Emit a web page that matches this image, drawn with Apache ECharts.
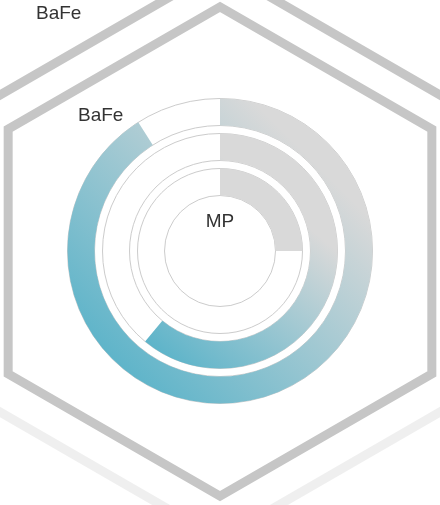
<!DOCTYPE html>
<html>
<head>
<meta charset="utf-8">
<script src="https://cdn.jsdelivr.net/npm/echarts@6/dist/echarts.min.js"></script>
<style>
html,body{margin:0;padding:0;background:#fff;}
#main{width:440px;height:505px;}
</style>
</head>
<body>
<div id="main"></div>
<script>
// Data
const categories = ['inner', 'middle', 'outer'];
const values = [25, 61, 91];
const centerText = 'MP';
const labelTexts = ['BaFe', 'BaFe'];
const angleMax = 100;

const FONT = '"Liberation Sans", Arial, Helvetica, sans-serif';
const chart = echarts.init(document.getElementById('main'), null, {renderer: 'canvas'});

// gradient stops per ring (teal at bottom-left, grey towards top-right)
const ringStops = [
  null,
  [0.05, 0.7],
  [0.12, 0.8]
];
function ringColor(i) {
  if (!ringStops[i]) return '#d9d9d9';
  return new echarts.graphic.LinearGradient(0, 1, 1, 0, [
    {offset: ringStops[i][0], color: '#5ab3c9'},
    {offset: ringStops[i][1], color: '#d9d9d9'},
    {offset: 1, color: '#d9d9d9'}
  ]);
}
const seriesData = values.map(function (v, i) {
  return {value: v, itemStyle: {color: ringColor(i)}};
});

function hexPoints(cx, cy, R) {
  const pts = [];
  for (let k = 0; k < 6; k++) {
    const a = Math.PI / 180 * (-90 + 60 * k);
    pts.push([cx + R * Math.cos(a), cy + R * Math.sin(a)]);
  }
  return pts;
}

const option = {
  backgroundColor: '#ffffff',
  animation: false,
  polar: {center: [220, 251], radius: [51.5, 156.5]},
  angleAxis: {
    type: 'value', max: angleMax, startAngle: 90, clockwise: true,
    axisLine: {show: false}, axisTick: {show: false}, axisLabel: {show: false}, splitLine: {show: false}
  },
  radiusAxis: {
    type: 'category', data: categories,
    axisLine: {show: false}, axisTick: {show: false}, axisLabel: {show: false}, splitLine: {show: false}
  },
  series: [{
    type: 'bar',
    coordinateSystem: 'polar',
    data: seriesData,
    barWidth: 27,
    showBackground: true,
    backgroundStyle: {color: '#ffffff', borderColor: '#cccccc', borderWidth: 1},
    silent: true
  }],
  graphic: [
    {
      type: 'polygon', z: -10,
      shape: {points: hexPoints(220, 253.5, 285.5)},
      style: {
        fill: 'none', lineWidth: 9,
        stroke: new echarts.graphic.LinearGradient(0, 0, 0, 1, [
          {offset: 0, color: '#c6c6c6'},
          {offset: 0.45, color: '#c6c6c6'},
          {offset: 0.6, color: '#efefef'},
          {offset: 1, color: '#efefef'}
        ])
      }
    },
    {
      type: 'polygon', z: -9,
      shape: {points: hexPoints(220, 251.5, 244.6)},
      style: {fill: 'none', lineWidth: 9, stroke: '#c6c6c6', lineJoin: 'miter'}
    },
    {
      type: 'text', left: 36, top: 4, z: 10,
      style: {text: labelTexts[0], font: '19px ' + FONT, fill: '#333333'}
    },
    {
      type: 'text', left: 78, top: 106, z: 10,
      style: {text: labelTexts[1], font: '19px ' + FONT, fill: '#333333'}
    },
    {
      type: 'text', x: 220, y: 212, z: 10,
      style: {text: centerText, font: '19px ' + FONT, fill: '#333333', textAlign: 'center', textVerticalAlign: 'top'}
    }
  ]
};
chart.setOption(option);
</script>
</body>
</html>
